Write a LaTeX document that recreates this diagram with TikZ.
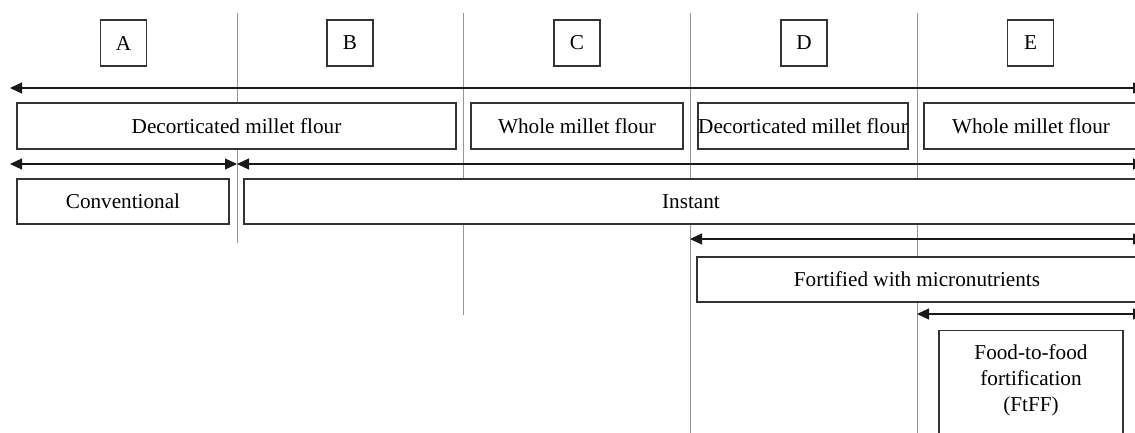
\documentclass[tikz,border=0pt]{standalone}
\usepackage{fontspec}
\setmainfont{Liberation Serif}
\usetikzlibrary{arrows.meta}
\begin{document}
\begin{tikzpicture}[x=1pt,y=-1pt,
  gridline/.style={draw=black!42, line width=0.9pt},
  box/.style={draw=black!80, fill=white, line width=1.1pt, inner sep=0pt,
    font=\fontsize{21.2}{26}\selectfont, align=center},
  txt/.style={inner sep=0pt, font=\fontsize{21.2}{26}\selectfont, align=center},
  span/.style={{Triangle[length=12pt,width=11pt]}-{Triangle[length=12pt,width=11pt]}, line width=1.2pt, draw=black!90}]
\useasboundingbox (0,0) rectangle (1135,432);
% grid lines
\coordinate (g1t) at (237,13); \coordinate (g1b) at (237,243);
\coordinate (g2t) at (463,13); \coordinate (g2b) at (463,315);
\coordinate (g3t) at (690,13); \coordinate (g3b) at (690,440);
\coordinate (g4t) at (917,13); \coordinate (g4b) at (917,440);
\draw[gridline] (g1t) -- (g1b);
\draw[gridline] (g2t) -- (g2b);
\draw[gridline] (g3t) -- (g3b);
\draw[gridline] (g4t) -- (g4b);
% letter boxes
\node[box, minimum width=46pt, minimum height=46pt] (A) at (123.5,43) {A};
\node[box, minimum width=46pt, minimum height=46pt] (B) at (350,43) {B};
\node[box, minimum width=46pt, minimum height=46pt] (C) at (577,43) {C};
\node[box, minimum width=46pt, minimum height=46pt] (D) at (804,43) {D};
\node[box, minimum width=46pt, minimum height=46pt] (E) at (1030.5,43) {E};
% row 1
\node[box, minimum width=439pt, minimum height=46pt] (dec1) at (236.5,126) {Decorticated millet flour};
\node[box, minimum width=212pt, minimum height=46pt] (whole1) at (577,126) {Whole millet flour};
\node[box, minimum width=210pt, minimum height=46pt] (dec2) at (803,126) {Decorticated millet flour};
\node[box, minimum width=214pt, minimum height=46pt] (whole2) at (1031,126) {Whole millet flour};
% row 2
\node[box, minimum width=212pt, minimum height=45pt] (conv) at (123,201.5) {Conventional};
\node[box, minimum width=894pt, minimum height=45pt] (inst) at (691,201.5) {Instant};
% row 3
\node[box, minimum width=440pt, minimum height=45pt] (fort) at (917,279.5) {Fortified with micronutrients};
% FtFF
\node[box, minimum width=184pt, minimum height=130pt, anchor=north] (ftff) at (1031,330) {};
\node[txt] (ftfftext) at (1031,380) {Food-to-food\\fortification\\(FtFF)};
% arrows
\coordinate (a1l) at (10,88);  \coordinate (a1r) at (1145,88);
\coordinate (a2l) at (10,164); \coordinate (a2m) at (237,164); \coordinate (a2r) at (1145,164);
\coordinate (a3l) at (690,239); \coordinate (a3r) at (1145,239);
\coordinate (a4l) at (917,314); \coordinate (a4r) at (1145,314);
\draw[span] (a1l) -- (a1r);
\draw[span] (a2l) -- (a2m);
\draw[span] (a2m) -- (a2r);
\draw[span] (a3l) -- (a3r);
\draw[span] (a4l) -- (a4r);
\end{tikzpicture}
\end{document}
